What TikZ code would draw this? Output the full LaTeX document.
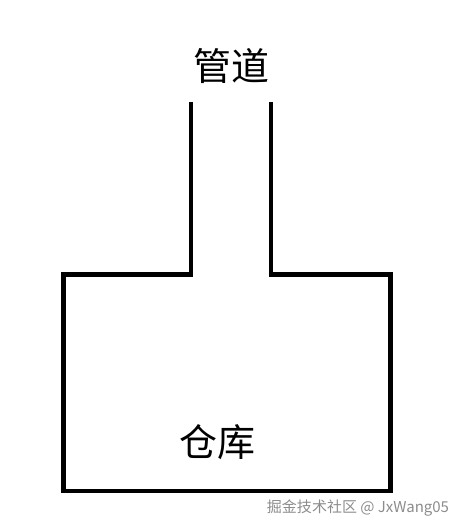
\documentclass[tikz,border=0pt]{standalone}
\usepackage{fontspec}
\newfontfamily\cjk{Noto Sans CJK SC}
\begin{document}
\begin{tikzpicture}[x=1pt,y=-1pt,
  wall/.style={line width=4.5pt,line join=miter,black},
  biglabel/.style={font=\cjk\fontsize{38}{40}\selectfont,inner sep=0pt},
  wmtext/.style={font=\cjk\fontsize{15}{16}\selectfont,text=black!45,inner sep=0pt}]
\useasboundingbox (0,0) rectangle (463,532);
\coordinate (ptl) at (191,102);
\coordinate (pbl) at (191,274.5);
\coordinate (btl) at (63.5,274.5);
\coordinate (bbl) at (63.5,491);
\coordinate (bbr) at (390.5,491);
\coordinate (btr) at (390.5,274.5);
\coordinate (pbr) at (271,274.5);
\coordinate (ptr) at (271,102);
\draw[wall] (ptl) -- (pbl) -- (btl) -- (bbl) -- (bbr) -- (btr) -- (pbr) -- (ptr);
\node[biglabel] (pipe) at (231.5,66.5) {管道};
\node[biglabel] (store) at (217.5,442) {仓库};
\node[wmtext] (wm) at (358,508) {掘金技术社区 @ JxWang05};
\end{tikzpicture}
\end{document}
